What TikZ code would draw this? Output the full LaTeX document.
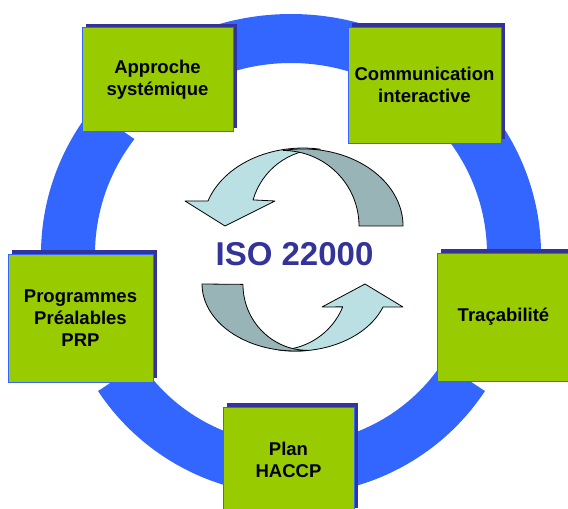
\documentclass[tikz,border=0pt]{standalone}
\usepackage{fontspec}
\setmainfont{Liberation Sans}
\usetikzlibrary{calc,shadows}
\definecolor{ringblue}{RGB}{51,102,255}
\definecolor{boxgreen}{RGB}{153,204,0}
\definecolor{navy}{RGB}{51,51,153}
\definecolor{arrlight}{RGB}{186,224,227}
\definecolor{arrdark}{RGB}{152,180,182}
\begin{document}
\begin{tikzpicture}[x=1pt,y=1pt,
  seg/.style={fill=ringblue},
  stepbox/.style={rectangle, fill=boxgreen, draw=ringblue, line width=0.8pt, inner sep=0pt, align=center,
    font=\fontsize{18.5}{22}\selectfont\bfseries,
    general shadow={fill=navy, shadow xshift=3.5pt, shadow yshift=3.5pt}},
  lightpart/.style={fill=arrlight, draw=black, line width=0.8pt, line join=round},
  darkpart/.style={fill=arrdark, draw=black, line width=0.8pt, line join=round}]
\clip (0,0) rectangle (568,509);
\coordinate (rc) at (291,255);
\coordinate (lc) at (291.5,246);
% ring segments (upper ellipse)
\fill[seg] ($(rc)+(55:250 and 240)$) arc[start angle=55,end angle=130,x radius=250,y radius=240]
  -- ($(rc)+(130:196 and 191)$) arc[start angle=130,end angle=55,x radius=196,y radius=191] -- cycle;
\fill[seg] ($(rc)+(143:250 and 240)$) arc[start angle=143,end angle=200,x radius=250,y radius=240]
  -- ($(rc)+(200:196 and 191)$) arc[start angle=200,end angle=143,x radius=196,y radius=191] -- cycle;
\fill[seg] ($(rc)+(-20:250 and 240)$) arc[start angle=-20,end angle=45,x radius=250,y radius=240]
  -- ($(rc)+(45:196 and 191)$) arc[start angle=45,end angle=-20,x radius=196,y radius=191] -- cycle;
% ring segments (lower)
\fill[seg] ($(lc)+(213.5:232)$) arc[start angle=213.5,end angle=266,radius=232]
  -- ($(lc)+(266:181)$) arc[start angle=266,end angle=213.5,radius=181] -- cycle;
\fill[seg] ($(lc)+(274:232)$) arc[start angle=274,end angle=326.5,radius=232]
  -- ($(lc)+(326.5:181)$) arc[start angle=326.5,end angle=274,radius=181] -- cycle;
% boxes
\node[stepbox, minimum width=151pt, minimum height=104pt] (b1) at (157.5,429.5) {Approche\\systémique};
\node[stepbox, minimum width=153pt, minimum height=116pt] (b2) at (424.5,424) {Communication\\interactive};
\node[stepbox, minimum width=145pt, minimum height=128pt] (b3) at (80.5,191) {Programmes\\Préalables\\PRP};
\node[stepbox, minimum width=133pt, minimum height=128pt] (b4) at (503.5,192) {Traçabilité};
\node[stepbox, minimum width=131pt, minimum height=105pt] (b5) at (288.5,49.5) {Plan\\HACCP};
% top circular arrow
\path[lightpart] (225,283) -- (185,308) -- (208,308)
  arc[start angle=161.8,end angle=80,x radius=100,y radius=77]
  arc[start angle=90,end angle=164,radius=70] -- (275,308) -- cycle;
\path[darkpart] (283.1,358.5) arc[start angle=101.5,end angle=0,x radius=100,y radius=77]
  -- (359,283) arc[start angle=0,end angle=90,x radius=76,y radius=75.5] -- cycle;
% bottom circular arrow
\path[lightpart] (365,225) -- (403,202) -- (383,202)
  arc[start angle=-20,end angle=-100.4,x radius=93.3,y radius=67]
  arc[start angle=-90,end angle=-22.3,radius=69.5] -- (322,202) -- cycle;
\path[darkpart] (202,225) arc[start angle=180,end angle=277.8,x radius=93.3,y radius=67]
  arc[start angle=-90,end angle=-180,x radius=65,y radius=66] -- cycle;
% title
\node[font=\fontsize{33}{40}\selectfont\bfseries, text=navy, inner sep=0pt] (iso) at (294.5,254.5) {ISO 22000};
\end{tikzpicture}
\end{document}
